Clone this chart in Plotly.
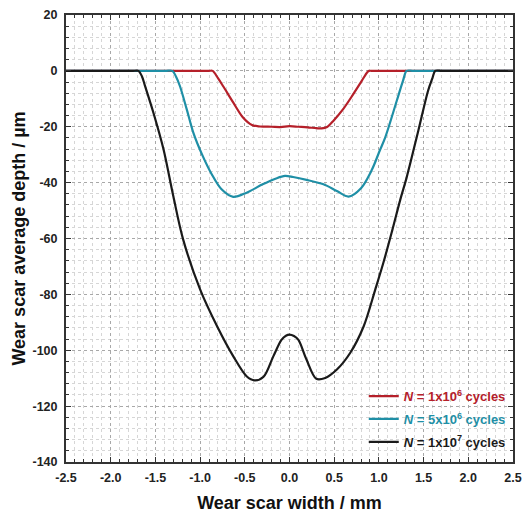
import plotly.graph_objects as go

# ---- data ----
red_x = [-2.5, -1.5, -0.95, -0.90, -0.86, -0.80, -0.74, -0.63, -0.52, -0.42, -0.33, -0.2, -0.1, 0.0, 0.1, 0.2, 0.3, 0.36, 0.42, 0.49, 0.60, 0.71, 0.81, 0.87, 0.89, 0.93, 0.98, 1.5, 2.5]
red_y = [0, 0, 0, 0, 0, -2.6, -5.6, -11.3, -16.7, -19.4, -19.9, -20.0, -20.1, -19.8, -20.0, -20.2, -20.5, -20.6, -20.1, -17.9, -13.7, -8.5, -3.5, -0.5, 0, 0, 0, 0, 0]

teal_x = [-2.5, -2.0, -1.45, -1.38, -1.31, -1.27, -1.225, -1.15, -1.076, -0.98, -0.87, -0.76, -0.63, -0.48, -0.30, -0.15, -0.05, 0.04, 0.19, 0.38, 0.53, 0.66, 0.80, 0.92, 1.01, 1.07, 1.20, 1.27, 1.31, 1.38, 1.45, 2.0, 2.5]
teal_y = [0, 0, 0, 0, 0, -2.0, -5.5, -13.7, -22.1, -29.8, -37.0, -42.4, -45.1, -43.6, -40.6, -38.5, -37.6, -38.0, -39.0, -40.6, -43.0, -45.0, -42.0, -35.5, -28.5, -23.9, -10.7, -3.5, 0, 0, 0, 0, 0]

black_x = [-2.5, -2.1, -1.82, -1.75, -1.69, -1.65, -1.617, -1.523, -1.41, -1.30, -1.19, -1.0, -0.81, -0.63, -0.48, -0.39, -0.29, -0.18, -0.09, -0.04, 0.0, 0.05, 0.1, 0.19, 0.30, 0.40, 0.53, 0.68, 0.83, 0.96, 1.05, 1.15, 1.24, 1.31, 1.44, 1.55, 1.60, 1.63, 1.70, 1.77, 2.1, 2.5]
black_y = [0, 0, 0, 0, 0, -2.0, -5.3, -14.9, -28.0, -44.8, -60.3, -78.2, -91.4, -102.1, -109.3, -110.8, -109.5, -102.1, -96.3, -94.8, -94.4, -94.9, -96.3, -103.3, -110.2, -109.9, -106.9, -100.9, -91.4, -78.2, -68.7, -57.0, -46.0, -38.2, -21.5, -7.1, -2.5, 0, 0, 0, 0, 0]

series_names = ["1x10<sup>6</sup>", "5x10<sup>6</sup>", "1x10<sup>7</sup>"]
colors = ["#b5202a", "#1f8fa6", "#1a1a1a"]

x_ticks = [-2.5, -2.0, -1.5, -1.0, -0.5, 0.0, 0.5, 1.0, 1.5, 2.0, 2.5]
y_ticks = [20, 0, -20, -40, -60, -80, -100, -120, -140]

FONT = "Liberation Sans, Arial, sans-serif"

fig = go.Figure()
for i, (xs, ys, nm, col) in enumerate(zip([red_x, teal_x, black_x], [red_y, teal_y, black_y], series_names, colors)):
    fig.add_trace(go.Scatter(
        x=xs, y=ys, mode="lines",
        line=dict(color=col, width=2.2, shape="spline", smoothing=0.9),
        name=f"<span style='color:{col}'><b><i>N</i> = {nm} cycles</b></span>",
        legendgroup=f"g{i}",
    ))

axis_common = dict(
    showline=True, linecolor="#333", linewidth=2, mirror="allticks",
    ticks="inside", ticklen=5, tickwidth=1, tickcolor="#333",
    showgrid=True, gridcolor="#a8a8a8", griddash="dot", gridwidth=1,
    zeroline=False, automargin=False, ticklabeloverflow="allow",
    tickfont=dict(family=FONT, size=12.5, color="#222", weight="bold"),
)

fig.update_xaxes(
    range=[-2.5, 2.5], tickvals=x_ticks, ticktext=[f"{v:.1f}" for v in x_ticks],
    minor=dict(dtick=0.1, ticks="inside", ticklen=3, tickcolor="#333",
               showgrid=True, gridcolor="#d6d6d6", griddash="dot", gridwidth=1),
    title=dict(text="<b>Wear scar width / mm</b>", font=dict(family=FONT, size=18, color="#111"), standoff=12),
    ticklabelstandoff=3,
    **axis_common,
)
fig.update_yaxes(
    range=[-140, 20], tickvals=y_ticks, ticktext=[str(v) for v in y_ticks],
    minor=dict(dtick=4, ticks="inside", ticklen=3, tickcolor="#333",
               showgrid=True, gridcolor="#d6d6d6", griddash="dot", gridwidth=1),
    title=dict(text="<b>Wear scar average depth / µm</b>", font=dict(family=FONT, size=18, color="#111"), standoff=2),
    ticklabelstandoff=4,
    **axis_common,
)

fig.update_layout(
    width=523, height=515,
    margin=dict(l=66, r=10, t=15, b=53),
    paper_bgcolor="white", plot_bgcolor="white",
    font=dict(family=FONT),
    legend=dict(
        x=0.995, y=0.011, xanchor="right", yanchor="bottom",
        bgcolor="rgba(255,255,255,0)", borderwidth=0, tracegroupgap=3,
        font=dict(family=FONT, size=13), itemwidth=30,
    ),
)

# remove the default page margin so the figure fills the window exactly
fig.write_html(
    "out.html",
    config={"displayModeBar": False},
    post_script="document.body.style.margin='0';document.body.style.overflow='hidden';",
)
